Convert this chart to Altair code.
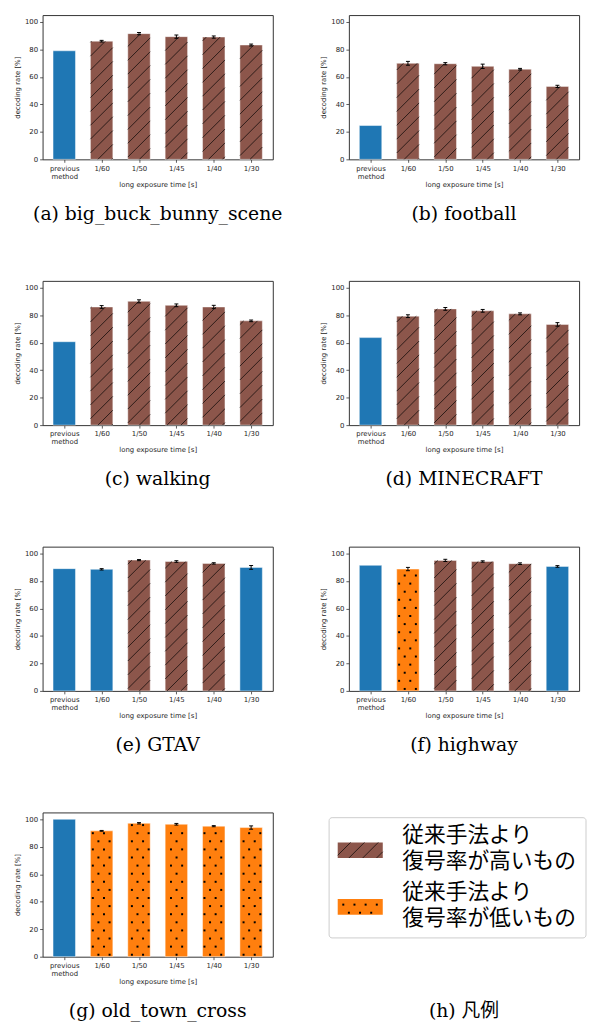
import json
import math
import pandas as pd
import altair as alt

# ---------------- data ----------------
CATEGORIES = ["previous method", "1/60", "1/50", "1/45", "1/40", "1/30"]
Y_TICKS = [0, 20, 40, 60, 80, 100]
X_TITLE = "long exposure time [s]"
Y_TITLE = "decoding rate [%]"

CAPTIONS = [
    "(a) big_buck_bunny_scene",
    "(b) football",
    "(c) walking",
    "(d) MINECRAFT",
    "(e) GTAV",
    "(f) highway",
    "(g) old_town_cross",
]

RATES_A = [79.0, 86.0, 91.5, 89.3, 89.0, 83.2]
ERRS_A = [0.0, 0.6, 0.8, 1.2, 0.8, 0.7]
KINDS_A = ["prev", "high", "high", "high", "high", "high"]

RATES_B = [24.6, 69.9, 69.6, 67.7, 65.6, 53.1]
ERRS_B = [0.0, 1.4, 0.8, 1.6, 0.6, 0.8]
KINDS_B = ["prev", "high", "high", "high", "high", "high"]

RATES_C = [60.7, 86.0, 90.1, 87.2, 86.0, 75.9]
ERRS_C = [0.0, 1.0, 1.1, 1.0, 1.2, 0.6]
KINDS_C = ["prev", "high", "high", "high", "high", "high"]

RATES_D = [63.7, 79.3, 84.6, 83.2, 81.0, 73.3]
ERRS_D = [0.0, 1.0, 1.0, 1.0, 0.7, 1.3]
KINDS_D = ["prev", "high", "high", "high", "high", "high"]

RATES_E = [89.0, 88.5, 95.2, 94.2, 92.8, 89.9]
ERRS_E = [0.0, 0.5, 0.4, 0.6, 0.5, 1.4]
KINDS_E = ["prev", "same", "high", "high", "high", "same"]

RATES_F = [91.4, 88.7, 95.0, 94.2, 92.6, 90.6]
ERRS_F = [0.0, 1.2, 0.8, 0.5, 0.6, 0.6]
KINDS_F = ["prev", "low", "high", "high", "high", "same"]

RATES_G = [100.0, 91.6, 97.1, 96.4, 95.0, 94.0]
ERRS_G = [0.0, 0.3, 0.5, 0.6, 0.4, 1.2]
KINDS_G = ["prev", "low", "low", "low", "low", "low"]

PANEL_RATES = [RATES_A, RATES_B, RATES_C, RATES_D, RATES_E, RATES_F, RATES_G]
PANEL_ERRS = [ERRS_A, ERRS_B, ERRS_C, ERRS_D, ERRS_E, ERRS_F, ERRS_G]
PANEL_KINDS = [KINDS_A, KINDS_B, KINDS_C, KINDS_D, KINDS_E, KINDS_F, KINDS_G]

KIND_DOMAIN = ["prev", "same", "high", "low"]
KIND_COLORS = ["#1f77b4", "#1f77b4", "#8c564b", "#ff7f0e"]

LEGEND_KINDS = ["high", "low"]
LEGEND_LINES = [["従来手法より", "復号率が高いもの"], ["従来手法より", "復号率が低いもの"]]
LEGEND_CAPTION = "(h) 凡例"

# ---------------- geometry / style ----------------
W, H = 233, 146
XMIN, XMAX = -0.58, 5.58
YMAX = 105
BAR_W = 0.6
KX = W / (XMAX - XMIN)
KY = H / YMAX
HATCH_STEP = 14.0
DOT_ROW = 8.2
DOT_COL = 11.3
CAPTION_FONT = "'DejaVu Serif', 'Noto Sans CJK JP'"
CAPTION_SIZE = 19
CAPTION_DY = 55
LEGEND_FONT = "'DejaVu Sans', 'Noto Sans CJK JP'"

LABELS_JS = json.dumps([c.split(" ") if " " in c else c for c in CATEGORIES], ensure_ascii=False)
LABEL_EXPR = LABELS_JS + "[round(datum.value)]"


def hatch_lines(ul, ur, h, step=HATCH_STEP):
    """'/' hatch inside the box [ul,ur]x[0,h] (pixel units, t upward)."""
    out = []
    kmin = math.ceil((0 - ur) / step)
    kmax = math.floor((h - ul) / step)
    for k in range(kmin, kmax + 1):
        c = k * step
        u0 = max(ul, -c)
        u1 = min(ur, h - c)
        if u1 - u0 > 0.5:
            out.append((u0, u0 + c, u1, u1 + c))
    return out


def dot_grid(ul, ur, h):
    out = []
    r = 0
    while True:
        t = 2.0 + r * DOT_ROW
        if t > h - 1.0:
            break
        shift = (r % 2) * DOT_COL / 2
        j0 = math.ceil((ul + 1.0 - shift) / DOT_COL)
        j1 = math.floor((ur - 1.0 - shift) / DOT_COL)
        for j in range(j0, j1 + 1):
            out.append((shift + j * DOT_COL, t))
        r += 1
    return out


def bar_panel(caption, rates, errs, kinds):
    pos = list(range(len(CATEGORIES)))
    bars = pd.DataFrame({"pos": pos, "cat": CATEGORIES, "rate": rates, "kind": kinds})
    bars["left"] = bars["pos"] - BAR_W / 2
    bars["right"] = bars["pos"] + BAR_W / 2
    bars["base"] = 0.0

    hatch_rows, dot_rows, err_rows, cap_rows = [], [], [], []
    for p, r, e, k in zip(pos, rates, errs, kinds):
        ul = (p - BAR_W / 2 - XMIN) * KX
        ur = (p + BAR_W / 2 - XMIN) * KX
        h = r * KY
        if k == "high":
            for u0, t0, u1, t1 in hatch_lines(ul, ur, h):
                hatch_rows.append({"x": XMIN + u0 / KX, "y": t0 / KY,
                                   "x2": XMIN + u1 / KX, "y2": t1 / KY})
        elif k == "low":
            for u, t in dot_grid(ul, ur, h):
                dot_rows.append({"x": XMIN + u / KX, "y": t / KY})
        if e > 0:
            err_rows.append({"pos": p, "lo": r - e, "hi": r + e})
            cap_rows.append({"pos": p, "cy": r - e})
            cap_rows.append({"pos": p, "cy": r + e})

    hdf = pd.DataFrame(hatch_rows, columns=["x", "y", "x2", "y2"])
    ddf = pd.DataFrame(dot_rows, columns=["x", "y"])
    edf = pd.DataFrame(err_rows, columns=["pos", "lo", "hi"])
    cdf = pd.DataFrame(cap_rows, columns=["pos", "cy"])

    xs = alt.Scale(domain=[XMIN, XMAX], nice=False, zero=False)
    ys = alt.Scale(domain=[0, YMAX], nice=False)
    xaxis = alt.Axis(values=pos, labelExpr=LABEL_EXPR, title=X_TITLE,
                     labelOverlap=False, labelFlush=False)
    yaxis = alt.Axis(values=Y_TICKS, title=Y_TITLE, labelOverlap=False, labelFlush=False)

    bar_layer = alt.Chart(bars).mark_rect(
        stroke="white", strokeWidth=1, strokeOpacity=0.45
    ).encode(
        x=alt.X("left:Q", scale=xs, axis=xaxis),
        x2=alt.X2("right"),
        y=alt.Y("rate:Q", scale=ys, axis=yaxis),
        y2=alt.Y2("base"),
        fill=alt.Fill("kind:N", scale=alt.Scale(domain=KIND_DOMAIN, range=KIND_COLORS), legend=None),
    )
    hatch_layer = alt.Chart(hdf).mark_rule(color="black", strokeWidth=0.8, opacity=0.85).encode(
        x=alt.X("x:Q", scale=xs, axis=xaxis),
        y=alt.Y("y:Q", scale=ys, axis=yaxis),
        x2=alt.X2("x2"),
        y2=alt.Y2("y2"),
    )
    dot_layer = alt.Chart(ddf).mark_square(size=4, color="black", opacity=1).encode(
        x=alt.X("x:Q", scale=xs, axis=xaxis),
        y=alt.Y("y:Q", scale=ys, axis=yaxis),
    )
    err_layer = alt.Chart(edf).mark_rule(color="black", strokeWidth=1).encode(
        x=alt.X("pos:Q", scale=xs, axis=xaxis),
        y=alt.Y("lo:Q", scale=ys, axis=yaxis),
        y2=alt.Y2("hi"),
    )
    cap_layer = alt.Chart(cdf).mark_tick(
        orient="horizontal", color="black", thickness=1, size=4, opacity=1
    ).encode(
        x=alt.X("pos:Q", scale=xs, axis=xaxis),
        y=alt.Y("cy:Q", scale=ys, axis=yaxis),
    )
    caption_layer = alt.Chart(pd.DataFrame({"cap": [caption]})).mark_text(
        font=CAPTION_FONT, fontSize=CAPTION_SIZE, align="center", baseline="middle", color="black"
    ).encode(x=alt.value(W / 2), y=alt.value(H + CAPTION_DY), text="cap:N")

    return alt.layer(bar_layer, hatch_layer, dot_layer, err_layer, cap_layer,
                     caption_layer).properties(width=W, height=H)


def legend_panel():
    # legend layout in panel pixels (y downward, relative to the panel's top-left)
    box_x = (-20, 240)
    box_y = (5.3, 127)
    patch_x = (-11.3, 34.3)
    patch_top = [30.3, 87.7]
    patch_h = 15.8
    text_x = 54
    text_first = [23.0, 80.3]
    line_h = 26.4

    lx = alt.Scale(domain=[0, W], range=[0, W], nice=False, zero=False)
    ly = alt.Scale(domain=[0, H], range=[0, H], nice=False, zero=False)

    box = pd.DataFrame({"x": [box_x[0]], "x2": [box_x[1]], "y": [box_y[0]], "y2": [box_y[1]]})
    patches, hatch_rows, dot_rows, text_rows = [], [], [], []
    for i, kind in enumerate(LEGEND_KINDS):
        top = patch_top[i]
        bot = top + patch_h
        patches.append({"kind": kind, "x": patch_x[0], "x2": patch_x[1], "y": top, "y2": bot})
        if kind == "high":
            for u0, t0, u1, t1 in hatch_lines(patch_x[0], patch_x[1], patch_h):
                hatch_rows.append({"x": u0, "y": bot - t0, "x2": u1, "y2": bot - t1})
        else:
            for u, t in dot_grid(patch_x[0], patch_x[1], patch_h):
                dot_rows.append({"x": u, "y": bot - t})
        for j, line in enumerate(LEGEND_LINES[i]):
            text_rows.append({"x": text_x, "y": text_first[i] + j * line_h, "t": line})

    pdf = pd.DataFrame(patches)
    hdf = pd.DataFrame(hatch_rows, columns=["x", "y", "x2", "y2"])
    ddf = pd.DataFrame(dot_rows, columns=["x", "y"])
    tdf = pd.DataFrame(text_rows)

    box_layer = alt.Chart(box).mark_rect(
        fill="white", stroke="#cccccc", strokeWidth=1, cornerRadius=3
    ).encode(
        x=alt.X("x:Q", scale=lx, axis=None), x2=alt.X2("x2"),
        y=alt.Y("y:Q", scale=ly, axis=None), y2=alt.Y2("y2"),
    )
    patch_layer = alt.Chart(pdf).mark_rect().encode(
        x=alt.X("x:Q", scale=lx, axis=None), x2=alt.X2("x2"),
        y=alt.Y("y:Q", scale=ly, axis=None), y2=alt.Y2("y2"),
        fill=alt.Fill("kind:N", scale=alt.Scale(domain=KIND_DOMAIN, range=KIND_COLORS), legend=None),
    )
    hatch_layer = alt.Chart(hdf).mark_rule(color="black", strokeWidth=0.8, opacity=0.85).encode(
        x=alt.X("x:Q", scale=lx, axis=None), x2=alt.X2("x2"),
        y=alt.Y("y:Q", scale=ly, axis=None), y2=alt.Y2("y2"),
    )
    dot_layer = alt.Chart(ddf).mark_square(size=4, color="black", opacity=1).encode(
        x=alt.X("x:Q", scale=lx, axis=None),
        y=alt.Y("y:Q", scale=ly, axis=None),
    )
    text_layer = alt.Chart(tdf).mark_text(
        font=LEGEND_FONT, fontSize=22, align="left", baseline="middle", color="black"
    ).encode(
        x=alt.X("x:Q", scale=lx, axis=None),
        y=alt.Y("y:Q", scale=ly, axis=None),
        text="t:N",
    )
    caption_layer = alt.Chart(pd.DataFrame({"cap": [LEGEND_CAPTION]})).mark_text(
        font=CAPTION_FONT, fontSize=CAPTION_SIZE, align="center", baseline="middle", color="black"
    ).encode(x=alt.value(W / 2), y=alt.value(H + CAPTION_DY), text="cap:N")

    return alt.layer(box_layer, patch_layer, hatch_layer, dot_layer, text_layer,
                     caption_layer).properties(width=W, height=H,
                                               view=alt.ViewBackground(stroke="transparent"))


panels = [bar_panel(c, r, e, k) for c, r, e, k in zip(CAPTIONS, PANEL_RATES, PANEL_ERRS, PANEL_KINDS)]
panels.append(legend_panel())

PAD = {"left": 5, "top": 0, "right": 0, "bottom": 0}

chart = alt.concat(
    *panels, columns=2, spacing=alt.RowColnumber(row=123, column=77), bounds="flush"
).properties(
    padding=PAD
).configure(
    padding=PAD
).configure_view(
    stroke="#333333", strokeWidth=1
).configure_axis(
    labelFont="DejaVu Sans", labelFontSize=7, labelColor="#262626",
    titleFont="DejaVu Sans", titleFontSize=7, titleFontWeight="normal", titleColor="#262626",
    tickColor="#333333", tickSize=3, tickWidth=0.8, domain=False, grid=False, labelPadding=2,
).configure_axisX(
    titlePadding=1, labelLineHeight=8
).configure_axisY(
    titlePadding=4
)

chart.save("out.html", embed_options={"renderer": "svg", "actions": False})
